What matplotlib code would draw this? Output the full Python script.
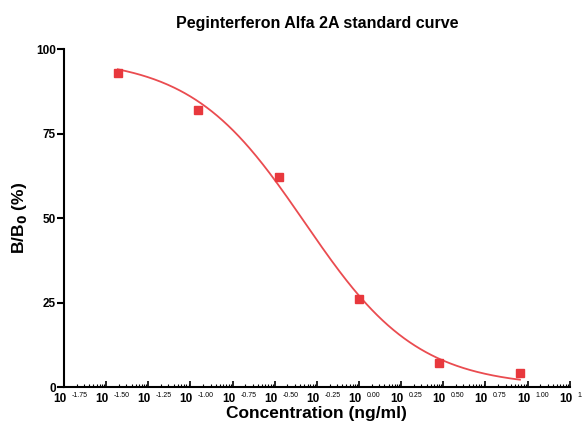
import numpy as np
import matplotlib
matplotlib.use("Agg")
import matplotlib.pyplot as plt

# data
conc = [1/27, 1/9, 1/3, 1, 3, 9]          # ng/ml
bb0 = [92.9, 82.0, 62.1, 26.0, 7.1, 4.1]   # B/B0 (%)
# 4PL fit parameters
top, bottom, ic50, hill = 97.5, 0.0, 0.475, 1.288
xtick_exp = [-1.75, -1.50, -1.25, -1.00, -0.75, -0.50, -0.25, 0.00, 0.25, 0.50, 0.75, 1.00, 1.25]
yticks = [0, 25, 50, 75, 100]

plt.rcParams['font.family'] = ['Liberation Sans', 'DejaVu Sans']
fig = plt.figure(figsize=(5.82, 4.25), dpi=100)
ax = fig.add_axes([0.110, 0.0894, 0.869, 0.7953])

red = '#e8383d'
xs = np.logspace(np.log10(conc[0]), np.log10(conc[-1]), 300)
ys = bottom + (top - bottom) / (1 + (xs / ic50) ** hill)
ax.plot(xs, ys, color=red, lw=1.3, alpha=0.9, zorder=2)
ax.plot(conc, bb0, 's', color=red, ms=5.5, zorder=3)

ax.set_xscale('log')
ax.set_xlim(10 ** xtick_exp[0], 10 ** xtick_exp[-1])
ax.set_ylim(0, 100)

ax.set_xticks([10 ** e for e in xtick_exp])
ax.set_xticklabels([''] * len(xtick_exp))
trans = ax.get_xaxis_transform()
for e in xtick_exp:
    ax.annotate('10', xy=(10 ** e, 0), xycoords=trans, xytext=(-3, -4),
                textcoords='offset points', ha='center', va='top',
                fontsize=8.5, fontweight='bold', annotation_clip=False)
    ax.annotate('%s%.2f' % ('-' if e < 0 else '', abs(e)), xy=(10 ** e, 0), xycoords=trans,
                xytext=(5.5, -3.5), textcoords='offset points', ha='left', va='top',
                fontsize=5, annotation_clip=False)
minor = []
for e in xtick_exp[:-1]:
    for k in range(2, 10):
        minor.append(10 ** (e + 0.25 * np.log10(k)))
ax.set_xticks(minor, minor=True)
ax.set_xticklabels([], minor=True)

ax.set_yticks(yticks)
ax.set_yticklabels([str(v) for v in yticks], fontsize=8.5, fontweight='bold')

for s in ['top', 'right']:
    ax.spines[s].set_visible(False)
for s in ['left', 'bottom']:
    ax.spines[s].set_linewidth(1.5)
ax.tick_params(axis='x', which='major', direction='in', length=4, width=1.2, pad=3)
ax.tick_params(axis='x', which='minor', direction='in', length=2, width=0.8)
ax.tick_params(axis='y', which='major', direction='out', length=5, width=1.5, pad=1)

ax.set_title('Peginterferon Alfa 2A standard curve', fontsize=11.5, fontweight='bold', pad=15)
ax.set_xlabel('Concentration (ng/ml)', fontsize=12.5, fontweight='bold', labelpad=10)
ax.set_ylabel(r'B/B$_\mathbf{0}$ (%)', fontsize=12.5, fontweight='bold', labelpad=5)

fig.savefig('out.png', dpi=100)
